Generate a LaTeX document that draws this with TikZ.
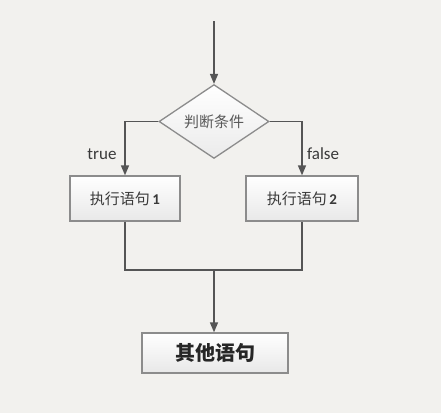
\documentclass[tikz,border=0pt]{standalone}
\usepackage{fontspec}
\newfontfamily\cjk{Noto Sans CJK SC}
\newfontfamily\lat{Carlito}
\usetikzlibrary{shapes.geometric,arrows.meta}
\definecolor{bg}{HTML}{F2F1EE}
\definecolor{edge}{HTML}{8C8C8C}
\definecolor{wire}{HTML}{555555}
\definecolor{txt}{HTML}{3A3A3A}
\tikzset{
  stepbox/.style={draw=edge, line width=1.3pt, top color=white, bottom color=black!9,
    minimum width=110pt, minimum height=45pt, inner sep=0pt, text=txt,
    font=\cjk\fontsize{15}{17}\selectfont},
  decbox/.style={diamond, draw=edge, line width=1.3pt, top color=white, bottom color=black!8,
    minimum width=110pt, minimum height=65pt, inner sep=0pt, text=black!65,
    font=\cjk\fontsize{15}{17}\selectfont},
  wire/.style={draw=wire, line width=1.5pt},
  arr/.style={wire, -{Triangle[width=8pt,length=10pt]}},
  lab/.style={font=\lat\fontsize{17}{19}\selectfont, text=txt, inner sep=0pt},
}
\begin{document}
\begin{tikzpicture}[x=1pt,y=-1pt]
\fill[bg] (0,0) rectangle (441,413);
\useasboundingbox (0,0) rectangle (441,413);
\coordinate (start) at (214,21);
\node[decbox] (dec) at (214,121.5) {判断条件};
\node[stepbox] (s1) at (125,198.5) {执行语句\,{\lat\bfseries 1}};
\node[stepbox, minimum width=112pt] (s2) at (302,198.5) {执行语句\,{\lat\bfseries 2}};
\node[stepbox, minimum width=146pt, minimum height=40pt, font=\cjk\bfseries\fontsize{20}{22}\selectfont, text=black!85] (s3) at (215,353) {其他语句};
\coordinate (j) at (214,270);
\draw[arr] (start) -- (dec.north);
\draw[arr] (dec.west) -| (s1.north);
\draw[arr] (dec.east) -| (s2.north);
\draw[wire] (s1.south) |- (j) -| (s2.south);
\draw[arr] (j) -- (s3.north -| j);
\node[lab] (t) at (102,154) {true};
\node[lab] (f) at (323,154) {false};
\end{tikzpicture}
\end{document}
